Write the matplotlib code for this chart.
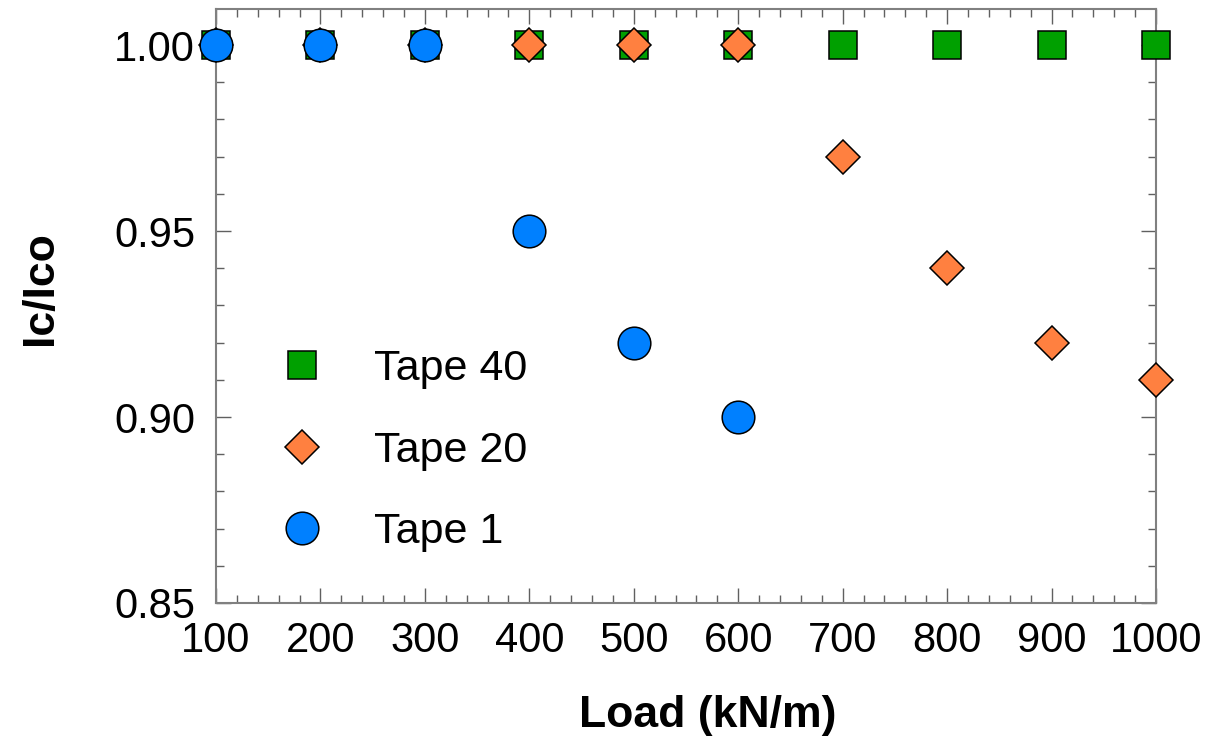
import numpy as np
import matplotlib
matplotlib.use("Agg")
import matplotlib.pyplot as plt
from matplotlib.ticker import MultipleLocator

plt.rcParams['font.family'] = ['Liberation Sans', 'DejaVu Sans']

load = [100, 200, 300, 400, 500, 600, 700, 800, 900, 1000]
tape40 = [1.00, 1.00, 1.00, 1.00, 1.00, 1.00, 1.00, 1.00, 1.00, 1.00]
tape20 = [1.00, 1.00, 1.00, 1.00, 1.00, 1.00, 0.97, 0.94, 0.92, 0.91]
load_t1 = [100, 200, 300, 400, 500, 600]
tape1 = [1.00, 1.00, 1.00, 0.95, 0.92, 0.90]

fig = plt.figure(figsize=(12.16, 7.47), dpi=100)
ax = fig.add_axes([216/1216, 1 - 603/747, 940/1216, 594/747])

ax.plot(load, tape40, ls='none', marker='s', ms=19.5, mfc='#00A000', mec='black',
        mew=1.1, clip_on=False, label='Tape 40', zorder=3)
ax.plot(load, tape20, ls='none', marker='D', ms=17.5, mfc='#FF8040', mec='black',
        mew=1.1, clip_on=False, label='Tape 20', zorder=4)
ax.plot(load_t1, tape1, ls='none', marker='o', ms=23.5, mfc='#0080FF', mec='black',
        mew=1.1, clip_on=False, label='Tape 1', zorder=5)

ax.set_xlim(100, 1000)
ax.set_ylim(0.85, 1.0097)
ax.xaxis.set_major_locator(MultipleLocator(100))
ax.xaxis.set_minor_locator(MultipleLocator(20))
ax.yaxis.set_major_locator(MultipleLocator(0.05))
ax.yaxis.set_minor_locator(MultipleLocator(0.01))
ax.yaxis.set_major_formatter(plt.FormatStrFormatter('%.2f'))

for s in ax.spines.values():
    s.set_color('#808080')
    s.set_linewidth(1.5)
ax.tick_params(which='both', direction='in', top=True, right=True, color='#606060',
               labelsize=30, width=1.0)
ax.tick_params(which='major', length=11)
ax.tick_params(which='minor', length=5.5)
ax.tick_params(axis='x', which='major', pad=13)
ax.tick_params(axis='y', which='major', pad=15)

ax.set_xlabel('Load (kN/m)', fontsize=32, fontweight='bold')
ax.set_ylabel('Ic/Ico', fontsize=32, fontweight='bold')
ax.xaxis.set_label_coords(0.523, -0.155)
ax.yaxis.set_label_coords(-0.165, 0.53)

ax.legend(loc='upper left', bbox_to_anchor=(0.046, 0.427), frameon=False,
          fontsize=31, handlelength=2.0, handletextpad=0.67, labelspacing=0.96,
          borderaxespad=0, borderpad=0)

fig.savefig('out.png', dpi=100)
